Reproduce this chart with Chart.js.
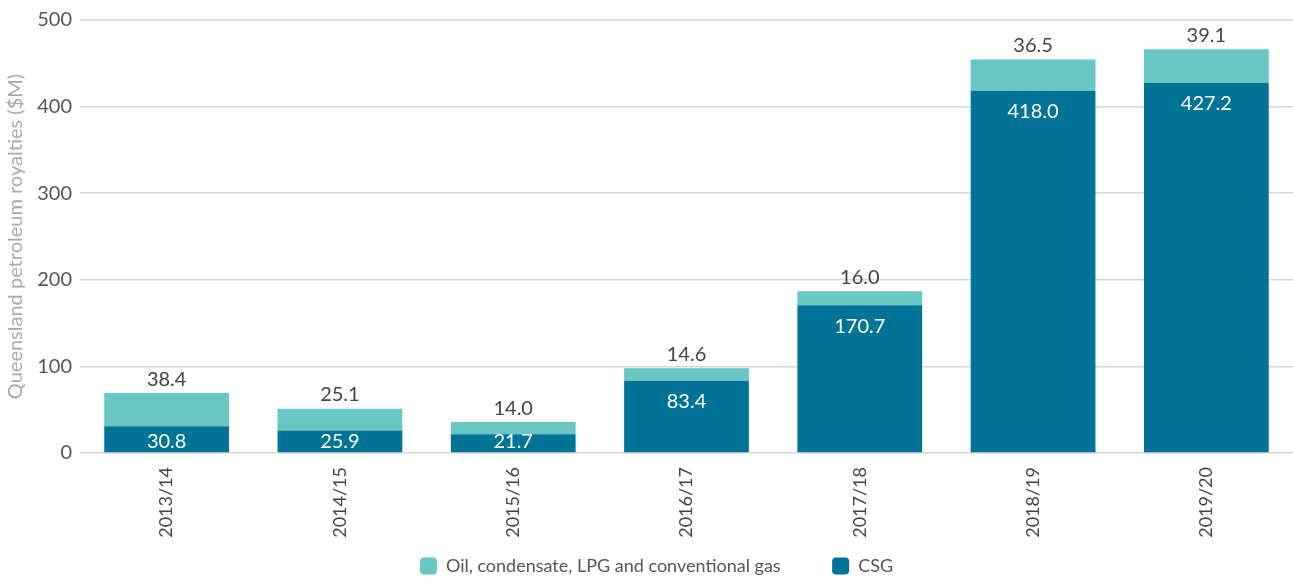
<!DOCTYPE html>
<html lang="en">
<head>
    <meta charset="UTF-8">
    <script src="https://cdn.jsdelivr.net/npm/chart.js"></script>
    <title>Queensland petroleum royalties</title>
    <style>
        html, body { margin: 0; padding: 0; background: #fff; }
        #box { width: 1293px; height: 585px; position: relative; }
    </style>
</head>
<body>
<div id="box">
    <canvas id="graficoRoyalties"></canvas>
</div>
<script>
    var anos = ['2013/14', '2014/15', '2015/16', '2016/17', '2017/18', '2018/19', '2019/20']
    var valoresCsg = [30.8, 25.9, 21.7, 83.4, 170.7, 418.0, 427.2]
    var valoresOleo = [38.4, 25.1, 14.0, 14.6, 16.0, 36.5, 39.1]
    var ticksY = [0, 100, 200, 300, 400, 500]

    var fonte = 'Lato, "Open Sans", sans-serif'

    // rotulos de valor: CSG dentro da barra, oleo em cima da pilha
    const rotulosValor = {
        id: 'rotulosValor',
        afterDatasetsDraw(chart) {
            const ctx = chart.ctx
            ctx.save()
            ctx.font = '20px ' + fonte
            ctx.textAlign = 'center'
            ctx.textBaseline = 'middle'

            chart.getDatasetMeta(0).data.forEach(function (barra, i) {
                var y = Math.min(barra.y + 21, barra.base - 11)
                ctx.fillStyle = '#ffffff'
                ctx.fillText(valoresCsg[i].toFixed(1), barra.x, y)
            })

            chart.getDatasetMeta(1).data.forEach(function (barra, i) {
                ctx.fillStyle = '#444444'
                ctx.fillText(valoresOleo[i].toFixed(1), barra.x, barra.y - 14)
            })
            ctx.restore()
        }
    }

    new Chart(graficoRoyalties, {
        type: 'bar',
        data: {
            labels: anos,
            datasets: [{
                label: 'CSG',
                data: valoresCsg,
                backgroundColor: '#007396',
                categoryPercentage: 1,
                barPercentage: 0.72
            }, {
                label: 'Oil, condensate, LPG and conventional gas',
                data: valoresOleo,
                backgroundColor: '#68c7c3',
                categoryPercentage: 1,
                barPercentage: 0.72
            }]
        },
        options: {
            responsive: true,
            maintainAspectRatio: false,
            animation: false,
            layout: {
                padding: { top: 18, right: 0, left: 20, bottom: 0 }
            },
            plugins: {
                legend: {
                    position: 'bottom',
                    reverse: true,
                    labels: {
                        color: '#555',
                        boxWidth: 17,
                        boxHeight: 17,
                        useBorderRadius: true,
                        borderRadius: 4,
                        padding: 10,
                        font: { family: fonte, size: 18 },
                        // espaco extra entre os dois itens da legenda
                        generateLabels: function (chart) {
                            var itens = Chart.defaults.plugins.legend.labels.generateLabels(chart)
                            itens.forEach(function (item) {
                                if (item.datasetIndex === 1) item.text = item.text + '         '
                            })
                            return itens
                        }
                    }
                },
                tooltip: { enabled: false }
            },
            scales: {
                x: {
                    stacked: true,
                    grid: { display: false },
                    border: { display: false },
                    afterFit: function (escala) { escala.height = 94 },
                    ticks: {
                        color: '#444',
                        minRotation: 90,
                        maxRotation: 90,
                        padding: 6,
                        font: { family: fonte, size: 18 }
                    }
                },
                y: {
                    stacked: true,
                    min: 0,
                    max: 500,
                    afterFit: function (escala) { escala.width = 60 },
                    afterBuildTicks: function (escala) {
                        escala.ticks = ticksY.map(function (v) { return { value: v } })
                    },
                    grid: { color: '#d6d6d6', lineWidth: 1.5, drawTicks: false },
                    border: { display: false },
                    ticks: {
                        color: '#555',
                        padding: 8,
                        font: { family: fonte, size: 20 }
                    },
                    title: {
                        display: true,
                        text: 'Queensland petroleum royalties ($M)',
                        color: '#a9a9a9',
                        padding: { top: -16, bottom: 0 },
                        font: { family: fonte, size: 20 }
                    }
                }
            }
        },
        plugins: [rotulosValor]
    })
</script>
</body>
</html>
